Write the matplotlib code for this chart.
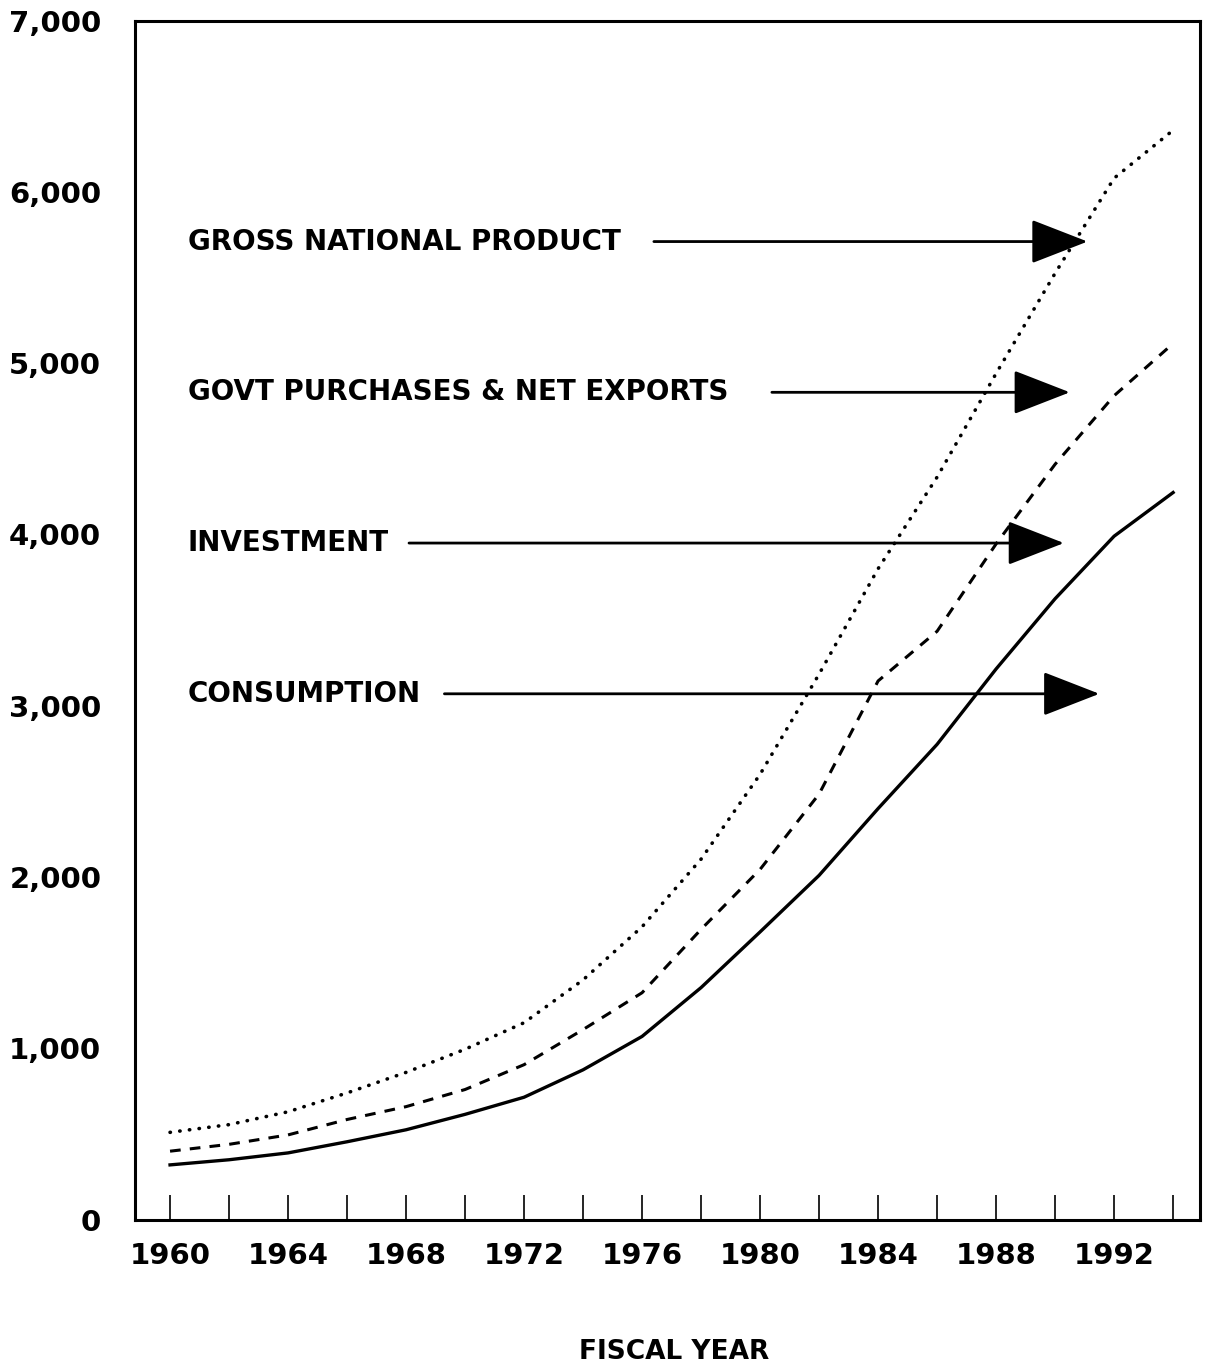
import numpy as np
import matplotlib.pyplot as plt

years = list(range(1960, 1995, 2))

consumption = [320, 350, 390, 455, 525, 615, 715, 875, 1070, 1355, 1680, 2010,
               2400, 2775, 3215, 3625, 3990, 4245]
govt_net_exports = [400, 440, 495, 585, 660, 760, 905, 1110, 1325, 1695, 2045, 2485,
                    3145, 3435, 3945, 4410, 4810, 5115]
gnp = [510, 555, 630, 740, 860, 995, 1150, 1400, 1710, 2105, 2600, 3185,
       3800, 4335, 4940, 5525, 6080, 6360]

tick_labels = [str(y) if (y - 1960) % 4 == 0 and y < 1994 else '' for y in years]
y_ticks = [0, 1000, 2000, 3000, 4000, 5000, 6000, 7000]

# etiquetas con flecha: (texto, y del texto, x inicio flecha, x fin flecha)
labels = [
    ('GROSS NATIONAL PRODUCT', 5710, 1976.4, 1991.1),
    ('GOVT PURCHASES & NET EXPORTS', 4830, 1980.4, 1990.5),
    ('INVESTMENT', 3950, 1968.1, 1990.3),
    ('CONSUMPTION', 3070, 1969.3, 1991.5),
]

plt.rcParams['font.family'] = 'DejaVu Sans'
plt.rcParams['font.weight'] = 'bold'

fig = plt.figure(figsize=(12.13, 13.72), dpi=100)
ax = fig.add_axes([0.111, 0.111, 0.878, 0.874])

ax.plot(years, consumption, color='black', lw=2.4, solid_joinstyle='miter')
ax.plot(years, govt_net_exports, color='black', lw=2.2, linestyle=(0, (3.5, 3)))
ax.plot(years, gnp, color='black', lw=2.6, linestyle=(0, (0.1, 2.6)),
        dash_capstyle='round')

for txt, yv, x0, x1 in labels:
    ax.text(1960.6, yv, txt, fontsize=20, fontweight='bold', va='center', ha='left')
    ax.annotate('', xy=(x1, yv), xytext=(x0, yv),
                arrowprops=dict(arrowstyle='-|>,head_length=1.8,head_width=0.7',
                                mutation_scale=20, lw=2, color='black',
                                shrinkA=0, shrinkB=0))

ax.set_xlim(1958.8, 1994.9)
ax.set_ylim(0, 7000)

ax.set_xticks(years)
ax.set_xticklabels(tick_labels, fontsize=21, fontweight='bold')
ax.tick_params(axis='x', direction='in', length=18, width=1.2, pad=16)

ax.set_yticks(y_ticks)
ax.set_yticklabels([f'{v:,}' for v in y_ticks], fontsize=21, fontweight='bold')
ax.tick_params(axis='y', length=0, pad=24)

for s in ax.spines.values():
    s.set_linewidth(2.2)

fig.text(0.556, 0.0146, 'FISCAL YEAR', ha='center', va='center',
         fontsize=19, fontweight='bold')

plt.savefig('out.png', dpi=100)
